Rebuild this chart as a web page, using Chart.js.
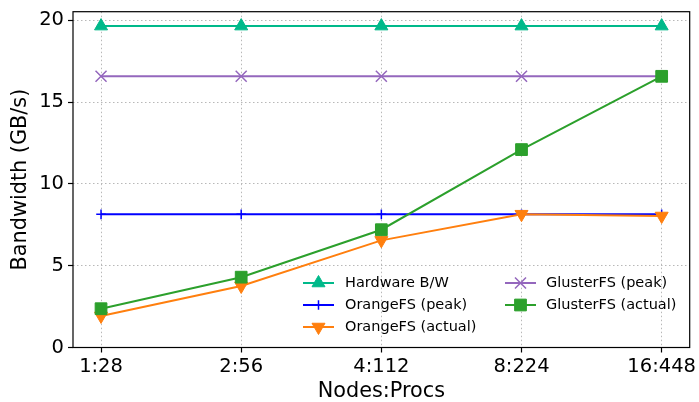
<!DOCTYPE html>
<html>
<head>
<meta charset="utf-8">
<script src="https://cdn.jsdelivr.net/npm/chart.js@4.4.1/dist/chart.umd.min.js"></script>
<style>
    html, body { margin: 0; padding: 0; background: #fff; }
    #wrap { width: 699px; height: 402px; position: relative; }
</style>
</head>
<body>
<div id="wrap"><canvas id="bw"></canvas></div>
<script>
// --- DATA ---
const categories = ['1:28', '2:56', '4:112', '8:224', '16:448'];
const yTicks = [0, 5, 10, 15, 20];
const hardwareBW = [19.65, 19.65, 19.65, 19.65, 19.65];
const orangePeak = [8.14, 8.14, 8.14, 8.14, 8.14];
const orangeActual = [1.93, 3.76, 6.55, 8.15, 8.04];
const glusterPeak = [16.58, 16.58, 16.58, 16.58, 16.58];
const glusterActual = [2.37, 4.3, 7.2, 12.1, 16.58];

const FONT = 'DejaVu Sans';

const toPts = arr => arr.map((v, i) => ({ x: i, y: v }));

function series(label, data, color, style, radius, extra) {
    return Object.assign({
        label: label,
        data: toPts(data),
        borderColor: color,
        backgroundColor: color,
        borderWidth: 2,
        pointStyle: style,
        pointRadius: radius,
        pointHoverRadius: radius,
        pointBackgroundColor: color,
        pointBorderColor: color,
        pointBorderWidth: 1,
        tension: 0
    }, extra || {});
}

const datasets = [
    series('Hardware B/W', hardwareBW, '#00b98a', 'triangle', 7.5, { order: 5 }),
    series('OrangeFS (peak)', orangePeak, '#0000ff', 'cross', 4.8, { order: 4, pointBorderWidth: 1.5 }),
    series('OrangeFS (actual)', orangeActual, '#ff7f0e', 'triangle', 7.5, { order: 3, pointRotation: 180 }),
    series('GlusterFS (peak)', glusterPeak, '#9467bd', 'crossRot', 7.8, { order: 2, pointBorderWidth: 1.5 }),
    series('GlusterFS (actual)', glusterActual, '#2ca02c', 'rect', 8.3, { order: 1 })
];

// matplotlib-style box + in-plot legend
const spinesAndLegend = {
    id: 'spinesAndLegend',
    afterDatasetsDraw(chart) {
        const ctx = chart.ctx, a = chart.chartArea;
        ctx.save();
        ctx.strokeStyle = '#000';
        ctx.lineWidth = 1.2;
        ctx.strokeRect(a.left, a.top, a.right - a.left, a.bottom - a.top);
        ctx.restore();
    },
    afterDraw(chart) {
        const ctx = chart.ctx;
        // legend slots: [handle start x, text x, row centre y]
        const slots = [
            [303, 345, 283], [303, 345, 305], [303, 345, 327],
            [505, 546, 283], [505, 546, 305]
        ];
        chart.data.datasets.forEach((ds, i) => {
            const [hx, tx, cy] = slots[i];
            ctx.save();
            ctx.strokeStyle = ds.borderColor;
            ctx.lineWidth = ds.borderWidth;
            ctx.beginPath();
            ctx.moveTo(hx, cy);
            ctx.lineTo(hx + 31, cy);
            ctx.stroke();
            ctx.fillStyle = ds.pointBackgroundColor;
            ctx.strokeStyle = ds.pointBorderColor;
            ctx.lineWidth = ds.pointBorderWidth;
            Chart.helpers.drawPoint(ctx, {
                pointStyle: ds.pointStyle,
                rotation: ds.pointRotation || 0,
                radius: ds.pointRadius,
                borderWidth: ds.pointBorderWidth
            }, hx + 15.5, cy);
            ctx.fillStyle = '#000';
            ctx.font = '14.5px "' + FONT + '"';
            ctx.textBaseline = 'middle';
            ctx.textAlign = 'left';
            ctx.fillText(ds.label, tx, cy);
            ctx.restore();
        });
    }
};

const gridCommon = {
    color: '#b8b8b8',
    lineWidth: 1,
    borderDash: [1.5, 2.5],
    drawTicks: true,
    tickLength: 5,
    tickColor: '#000',
    tickWidth: 1.2,
    tickBorderDash: []
};

new Chart(document.getElementById('bw'), {
    type: 'line',
    data: { datasets: datasets },
    options: {
        responsive: true,
        maintainAspectRatio: false,
        animation: false,
        layout: { padding: { top: 11.7, right: 9, left: 0, bottom: 0 } },
        plugins: { legend: { display: false }, tooltip: { enabled: false } },
        scales: {
            x: {
                type: 'linear',
                min: -0.2,
                max: 4.2,
                afterBuildTicks: s => { s.ticks = categories.map((c, i) => ({ value: i })); },
                afterFit: s => { s.height = 54.5; s.paddingLeft = 0; s.paddingRight = 0; },
                ticks: {
                    callback: v => categories[v],
                    color: '#000',
                    font: { family: FONT, size: 19.5 },
                    padding: 3,
                    maxRotation: 0,
                    autoSkip: false
                },
                grid: gridCommon,
                border: { display: false, dash: [1.5, 2.5] },
                title: {
                    display: true,
                    text: 'Nodes:Procs',
                    color: '#000',
                    font: { family: FONT, size: 20.8, lineHeight: 1 },
                    padding: 0
                }
            },
            y: {
                min: 0,
                max: 20.53,
                afterBuildTicks: s => { s.ticks = yTicks.map(v => ({ value: v })); },
                afterFit: s => { s.width = 73; s.paddingTop = 0; s.paddingBottom = 0; },
                ticks: {
                    color: '#000',
                    font: { family: FONT, size: 19.5 },
                    padding: 4
                },
                grid: gridCommon,
                border: { display: false, dash: [1.5, 2.5] },
                title: {
                    display: true,
                    text: 'Bandwidth (GB/s)',
                    color: '#000',
                    font: { family: FONT, size: 20.8, lineHeight: 1 },
                    padding: { top: 10, bottom: 0 }
                }
            }
        }
    },
    plugins: [spinesAndLegend]
});
</script>
</body>
</html>
